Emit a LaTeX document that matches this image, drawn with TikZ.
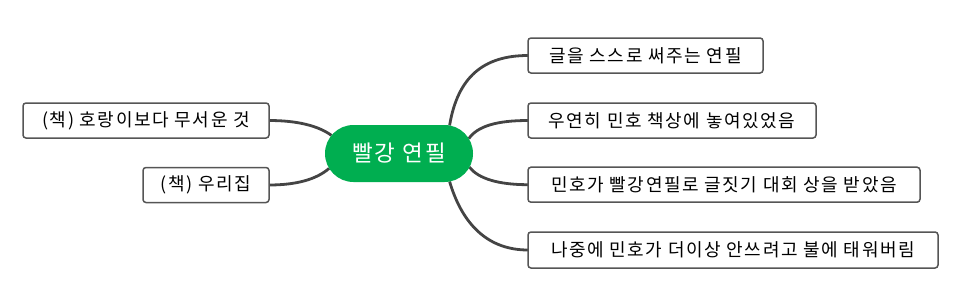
\documentclass[tikz,border=0pt]{standalone}
\usepackage{fontspec}
\setmainfont[LetterSpace=9]{Noto Sans CJK KR}
\usetikzlibrary{shapes.misc,backgrounds}
\definecolor{pillgreen}{RGB}{0,174,80}
\definecolor{linegray}{RGB}{68,68,68}
\definecolor{boxgray}{RGB}{85,85,85}
\begin{document}
\begin{tikzpicture}[x=1pt,y=1pt,
  topic/.style={shape=rounded rectangle, fill=pillgreen, text=white,
    font=\fontsize{22.5}{27}\selectfont, minimum width=148pt,
    minimum height=57pt, inner sep=0pt, outer sep=0pt},
  subtopic/.style={draw=boxgray, line width=1.5pt, rounded corners=3pt,
    fill=white, font=\fontsize{18}{22}\selectfont, minimum height=35pt,
    inner sep=0pt, outer sep=0pt},
  branch/.style={draw=linegray, line width=2.8pt}]
\useasboundingbox (0,-303) rectangle (962,0);

\node[topic] (c) at (399,-153.5) {빨강 연필};

\node[subtopic, minimum width=246pt] (l1) at (146,-120.5) {(책) 호랑이보다 무서운 것};
\node[subtopic, minimum width=126pt] (l2) at (206,-185) {(책) 우리집};

\node[subtopic, minimum width=235pt, anchor=west] (r1) at (528,-55.5) {글을 스스로 써주는 연필};
\node[subtopic, minimum width=288pt, anchor=west] (r2) at (528,-120.5) {우연히 민호 책상에 놓여있었음};
\node[subtopic, minimum width=392pt, anchor=west] (r3) at (528,-184.7) {민호가 빨강연필로 글짓기 대회 상을 받았음};
\node[subtopic, minimum width=410pt, minimum height=36pt, anchor=west] (r4) at (528,-250) {나중에 민호가 더이상 안쓰려고 불에 태워버림};

\begin{scope}[on background layer]
\draw[branch] (c.29) .. controls +(8,48) and +(-45,0) .. (r1.west);
\draw[branch] (c.12.5) .. controls +(8.7,12.7) and +(-30.7,0) .. (r2.west);
\draw[branch] (c.-11) .. controls +(8.7,-11.3) and +(-30,0) .. (r3.west);
\draw[branch] (c.-29) .. controls +(13.3,-44.7) and +(-38.7,0) .. (r4.west);
\draw[branch] (l1.east) .. controls +(27.3,0) and +(-13.7,10) .. (c.165);
\draw[branch] (l2.east) .. controls +(27.3,0) and +(-12.8,-11.1) .. (c.192);
\end{scope}
\end{tikzpicture}
\end{document}
